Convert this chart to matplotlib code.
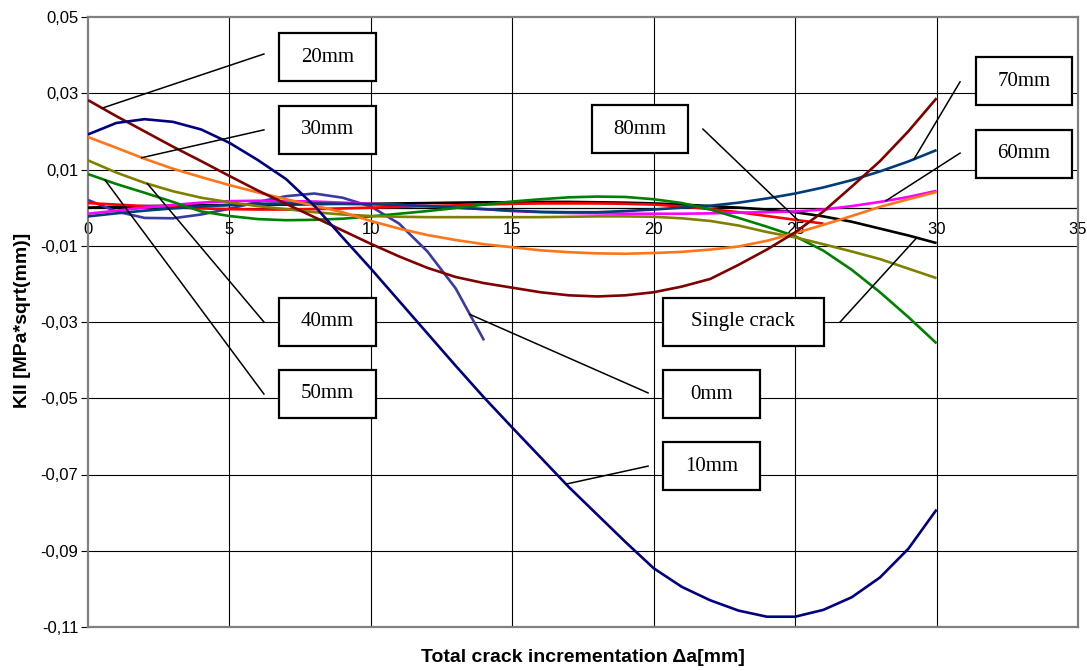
import numpy as np
import matplotlib
matplotlib.use("Agg")
import matplotlib.pyplot as plt
from matplotlib.patches import Rectangle

# Crack increment positions [mm]
x_full = list(range(0, 31))
x_0mm = list(range(0, 15))
x_80mm = list(range(0, 27))

# KII values for each crack offset
k_0mm = [0.0020, -0.0010, -0.0027, -0.0028, -0.0018, -0.0003, 0.0015, 0.0030,
         0.0037, 0.0026, 0.0003, -0.0042, -0.0115, -0.0212, -0.0348]
k_10mm = [0.0192, 0.0222, 0.0232, 0.0225, 0.0205, 0.0170, 0.0125, 0.0075, 0.0005,
          -0.0078, -0.0160, -0.0245, -0.0330, -0.0415, -0.0498, -0.0577, -0.0655,
          -0.0733, -0.0805, -0.0877, -0.0946, -0.0995, -0.1030, -0.1057, -0.1073,
          -0.1073, -0.1055, -0.1022, -0.0970, -0.0895, -0.0792]
k_20mm = [0.0282, 0.0240, 0.0200, 0.0160, 0.0122, 0.0083, 0.0045, 0.0010, -0.0025,
          -0.0060, -0.0095, -0.0128, -0.0158, -0.0182, -0.0198, -0.0210, -0.0222,
          -0.0230, -0.0233, -0.0230, -0.0222, -0.0207, -0.0187, -0.0150, -0.0110,
          -0.0065, -0.0010, 0.0055, 0.0122, 0.0200, 0.0287]
k_30mm = [0.0185, 0.0157, 0.0128, 0.0102, 0.0080, 0.0059, 0.0040, 0.0022, 0.0005,
          -0.0012, -0.0035, -0.0055, -0.0072, -0.0085, -0.0096, -0.0104, -0.0112,
          -0.0117, -0.0120, -0.0121, -0.0119, -0.0116, -0.0110, -0.0102, -0.0087,
          -0.0067, -0.0045, -0.0022, 0.0002, 0.0022, 0.0041]
k_40mm = [0.0124, 0.0092, 0.0065, 0.0043, 0.0026, 0.0014, 0.0004, -0.0004, -0.0012,
          -0.0018, -0.0022, -0.0024, -0.0025, -0.0025, -0.0025, -0.0025, -0.0025,
          -0.0024, -0.0023, -0.0023, -0.0024, -0.0028, -0.0035, -0.0047, -0.0064,
          -0.0078, -0.0096, -0.0115, -0.0135, -0.0160, -0.0185]
k_50mm = [0.0088, 0.0062, 0.0039, 0.0015, -0.0010, -0.0022, -0.0030, -0.0033,
          -0.0032, -0.0029, -0.0023, -0.0016, -0.0009, -0.0001, 0.0008, 0.0016,
          0.0022, 0.0027, 0.0029, 0.0028, 0.0022, 0.0012, -0.0005, -0.0027, -0.0050,
          -0.0075, -0.0113, -0.0163, -0.0222, -0.0287, -0.0356]
k_60mm = [-0.0016, -0.0008, 0.0000, 0.0007, 0.0013, 0.0017, 0.0018, 0.0017, 0.0016,
          0.0013, 0.0010, 0.0007, 0.0004, 0.0000, -0.0004, -0.0009, -0.0012, -0.0014,
          -0.0015, -0.0016, -0.0016, -0.0016, -0.0015, -0.0013, -0.0012, -0.0010,
          -0.0005, 0.0004, 0.0015, 0.0028, 0.0044]
k_70mm = [-0.0023, -0.0015, -0.0008, -0.0002, 0.0003, 0.0007, 0.0010, 0.0011, 0.0011,
          0.0010, 0.0009, 0.0007, 0.0004, 0.0000, -0.0004, -0.0008, -0.0011, -0.0012,
          -0.0012, -0.0009, -0.0005, 0.0000, 0.0005, 0.0013, 0.0024, 0.0037, 0.0053,
          0.0072, 0.0095, 0.0121, 0.0151]
k_80mm = [0.0012, 0.0008, 0.0004, 0.0001, -0.0002, -0.0004, -0.0005, -0.0005, -0.0004,
          -0.0002, 0.0000, 0.0002, 0.0004, 0.0006, 0.0008, 0.0010, 0.0011, 0.0011,
          0.0011, 0.0010, 0.0008, 0.0003, -0.0004, -0.0012, -0.0022, -0.0032, -0.0042]
k_single = [0.0000, 0.0002, 0.0004, 0.0005, 0.0006, 0.0007, 0.0008, 0.0008, 0.0009,
            0.0010, 0.0010, 0.0011, 0.0012, 0.0013, 0.0014, 0.0014, 0.0015, 0.0015,
            0.0014, 0.0013, 0.0011, 0.0008, 0.0004, 0.0000, -0.0005, -0.0012, -0.0023,
            -0.0037, -0.0055, -0.0073, -0.0093]

x_ticks = [0, 5, 10, 15, 20, 25, 30, 35]
y_ticks = [0.05, 0.03, 0.01, -0.01, -0.03, -0.05, -0.07, -0.09, -0.11]
y_tick_labels = ["0,05", "0,03", "0,01", "-0,01", "-0,03", "-0,05", "-0,07", "-0,09", "-0,11"]

# series drawn in this order: (label, x, y, colour)
series = [
    ("Single crack", x_full, k_single, "#000000"),
    ("0mm", x_0mm, k_0mm, "#3a3aa0"),
    ("80mm", x_80mm, k_80mm, "#ff0000"),
    ("60mm", x_full, k_60mm, "#ff00ff"),
    ("70mm", x_full, k_70mm, "#003d7a"),
    ("50mm", x_full, k_50mm, "#008000"),
    ("40mm", x_full, k_40mm, "#808000"),
    ("30mm", x_full, k_30mm, "#ff7518"),
    ("20mm", x_full, k_20mm, "#800000"),
    ("10mm", x_full, k_10mm, "#000080"),
]

# callouts: label -> (anchor x on curve, box centre x, box centre y, box width,
#                     free end of leader x, y)
callouts = {
    "20mm": (0.5, 8.47, 0.0394, 3.43, 6.22, 0.0403),
    "30mm": (1.9, 8.47, 0.0204, 3.43, 6.22, 0.0204),
    "40mm": (2.1, 8.47, -0.0300, 3.43, 6.22, -0.0300),
    "50mm": (0.6, 8.47, -0.0488, 3.43, 6.22, -0.0489),
    "80mm": (25.1, 19.51, 0.0205, 3.40, 21.74, 0.0206),
    "Single crack": (29.3, 23.17, -0.0299, 5.69, 26.59, -0.0300),
    "0mm": (13.5, 22.04, -0.0489, 3.43, 19.80, -0.0486),
    "10mm": (16.9, 22.04, -0.0678, 3.43, 19.80, -0.0678),
    "70mm": (29.2, 33.09, 0.0331, 3.40, 30.83, 0.0330),
    "60mm": (28.2, 33.09, 0.0141, 3.40, 30.83, 0.0143),
}
box_height = 0.0126

fig = plt.figure(figsize=(10.87, 6.71), dpi=100)
ax = fig.add_axes([88 / 1087, 1 - 627 / 671, 990 / 1087, 610 / 671])

ax.set_xlim(0, 35)
ax.set_ylim(-0.11, 0.05)

# grid
for yv in y_ticks[1:-1]:
    ax.axhline(yv, color="black", lw=0.8, zorder=1)
for xv in x_ticks[1:-1]:
    ax.axvline(xv, color="black", lw=0.8, zorder=1)
ax.axhline(0, color="black", lw=0.9, zorder=1)

for sp in ax.spines.values():
    sp.set_color("#808080")
    sp.set_linewidth(1.6)

ax.set_yticks(y_ticks)
ax.set_yticklabels(y_tick_labels, fontsize=12, family="Liberation Sans")
ax.tick_params(axis="y", direction="out", length=5, width=0.8, color="black", pad=2)
ax.set_xticks([])
for xv in x_ticks:
    ax.annotate(str(xv), xy=(xv, 0), xytext=(0, -16), textcoords="offset points",
                ha="center", va="center", fontsize=12, family="Liberation Sans",
                zorder=2, annotation_clip=False)

for label, xs, ys, col in series:
    ax.plot(xs, ys, color=col, lw=1.9, zorder=3, solid_capstyle="butt")

for label, xs, ys, col in series:
    anchor_x, cx, cy, w, ex, ey = callouts[label]
    ay = float(np.interp(anchor_x, xs, ys))
    ax.plot([anchor_x, ex], [ay, ey], color="black", lw=1.1, zorder=4)
    ax.add_patch(Rectangle((cx - w / 2, cy - box_height / 2), w, box_height,
                           fc="white", ec="black", lw=1.6, zorder=5))
    ax.text(cx, cy, label, ha="center", va="center", fontsize=15,
            family="Liberation Serif", zorder=6)

fig.text(583 / 1087, 1 - 657 / 671, "Total crack incrementation \u0394a[mm]",
         ha="center", va="center", fontsize=14, fontweight="bold", family="Liberation Sans")
fig.text(23 / 1087, 1 - 320 / 671, "KII [MPa*sqrt(mm)]", rotation=90,
         ha="center", va="center", fontsize=14, fontweight="bold", family="Liberation Sans")

fig.savefig("out.png", dpi=100, facecolor="white")
